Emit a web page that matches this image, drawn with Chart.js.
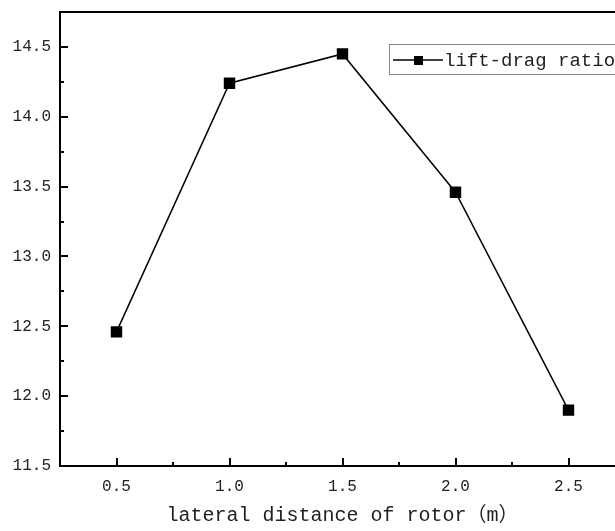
<!DOCTYPE html>
<html>
<head>
<meta charset="utf-8">
<script src="https://cdn.jsdelivr.net/npm/chart.js@4/dist/chart.umd.min.js"></script>
<style>
  html, body { margin: 0; padding: 0; background: #fff; overflow: hidden; }
  #wrap { width: 650px; height: 531px; }
</style>
</head>
<body>
<div id="wrap"><canvas id="ratioChart" width="650" height="531"></canvas></div>
<script>
// data
const distances = [0.5, 1.0, 1.5, 2.0, 2.5];
const liftDragRatio = [12.46, 14.24, 14.45, 13.46, 11.90];
const seriesLabel = 'lift-drag ratio';
const xTitle = 'lateral distance of rotor（m）';

// axis ranges, 0.25 steps -> major every 0.5, minor in between
const xRange = [0.25, 2.75];
const yRange = [11.5, 14.75];
const step = 0.25;

const FONT = "'Liberation Mono', 'Noto Sans CJK SC', monospace";

function isMajor(v) {
  return Math.abs(v * 2 - Math.round(v * 2)) < 1e-6;
}

// frame, inward ticks and the legend box
const framePlugin = {
  id: 'frame',
  afterDraw(chart) {
    const ctx = chart.ctx;
    const a = chart.chartArea;
    const xs = chart.scales.x, ys = chart.scales.y;
    const L = Math.round(a.left), R = Math.round(a.right);
    const T = Math.round(a.top), B = Math.round(a.bottom);
    ctx.save();
    ctx.strokeStyle = '#000';
    ctx.lineWidth = 2;
    ctx.beginPath();
    ctx.moveTo(L, T); ctx.lineTo(R, T); ctx.lineTo(R, B); ctx.lineTo(L, B); ctx.closePath();
    ctx.stroke();

    ctx.beginPath();
    ys.ticks.forEach(t => {
      const py = Math.round(ys.getPixelForValue(t.value));
      const len = isMajor(t.value) ? 8 : 4;
      ctx.moveTo(L, py); ctx.lineTo(L + len, py);
    });
    xs.ticks.forEach(t => {
      const px = Math.round(xs.getPixelForValue(t.value));
      const len = isMajor(t.value) ? 8 : 4;
      ctx.moveTo(px, B); ctx.lineTo(px, B - len);
    });
    ctx.stroke();

    // legend
    const lx = L + 330, ly = T + 33;
    ctx.strokeStyle = '#888';
    ctx.lineWidth = 1;
    ctx.strokeRect(lx - 0.5, ly - 0.5, 300, 30);
    ctx.strokeStyle = '#000';
    ctx.lineWidth = 1.5;
    ctx.beginPath();
    ctx.moveTo(lx + 3, ly + 15); ctx.lineTo(lx + 53, ly + 15);
    ctx.stroke();
    ctx.fillStyle = '#000';
    ctx.fillRect(lx + 24, ly + 11, 9, 9);
    ctx.font = '19px ' + FONT;
    ctx.textBaseline = 'middle';
    ctx.fillStyle = '#222';
    ctx.fillText(seriesLabel, lx + 54, ly + 16);
    ctx.restore();
  }
};

const ctx = document.getElementById('ratioChart').getContext('2d');
const ratioChart = new Chart(ctx, {
  type: 'line',
  data: {
    datasets: [{
      label: seriesLabel,
      data: distances.map((d, i) => ({ x: d, y: liftDragRatio[i] })),
      borderColor: '#000',
      backgroundColor: '#000',
      borderWidth: 1.5,
      pointStyle: 'rect',
      pointRadius: 7,
      pointHoverRadius: 7,
      tension: 0,
      clip: false
    }]
  },
  options: {
    responsive: false,
    animation: false,
    events: [],
    layout: { padding: { top: 12, right: 25, bottom: 0, left: 0 } },
    plugins: {
      legend: { display: false },
      tooltip: { enabled: false }
    },
    scales: {
      x: {
        type: 'linear',
        min: xRange[0],
        max: xRange[1],
        border: { display: false },
        grid: { display: false, drawTicks: false },
        ticks: {
          stepSize: step,
          autoSkip: false,
          maxRotation: 0,
          padding: 11,
          color: '#222',
          font: { family: FONT, size: 16 },
          callback: v => isMajor(v) ? v.toFixed(1) : ''
        },
        title: {
          display: true,
          text: xTitle,
          color: '#222',
          font: { family: FONT, size: 20 },
          padding: { top: 0, bottom: 3 }
        },
        afterFit: s => { s.height = 65; s.paddingLeft = 0; s.paddingRight = 0; }
      },
      y: {
        min: yRange[0],
        max: yRange[1],
        border: { display: false },
        grid: { display: false, drawTicks: false },
        ticks: {
          stepSize: step,
          autoSkip: false,
          padding: 9,
          color: '#222',
          font: { family: FONT, size: 16 },
          callback: v => isMajor(v) ? v.toFixed(1) : ''
        },
        afterFit: s => { s.width = 60; s.paddingTop = 0; s.paddingBottom = 0; }
      }
    }
  },
  plugins: [framePlugin]
});
</script>
</body>
</html>
